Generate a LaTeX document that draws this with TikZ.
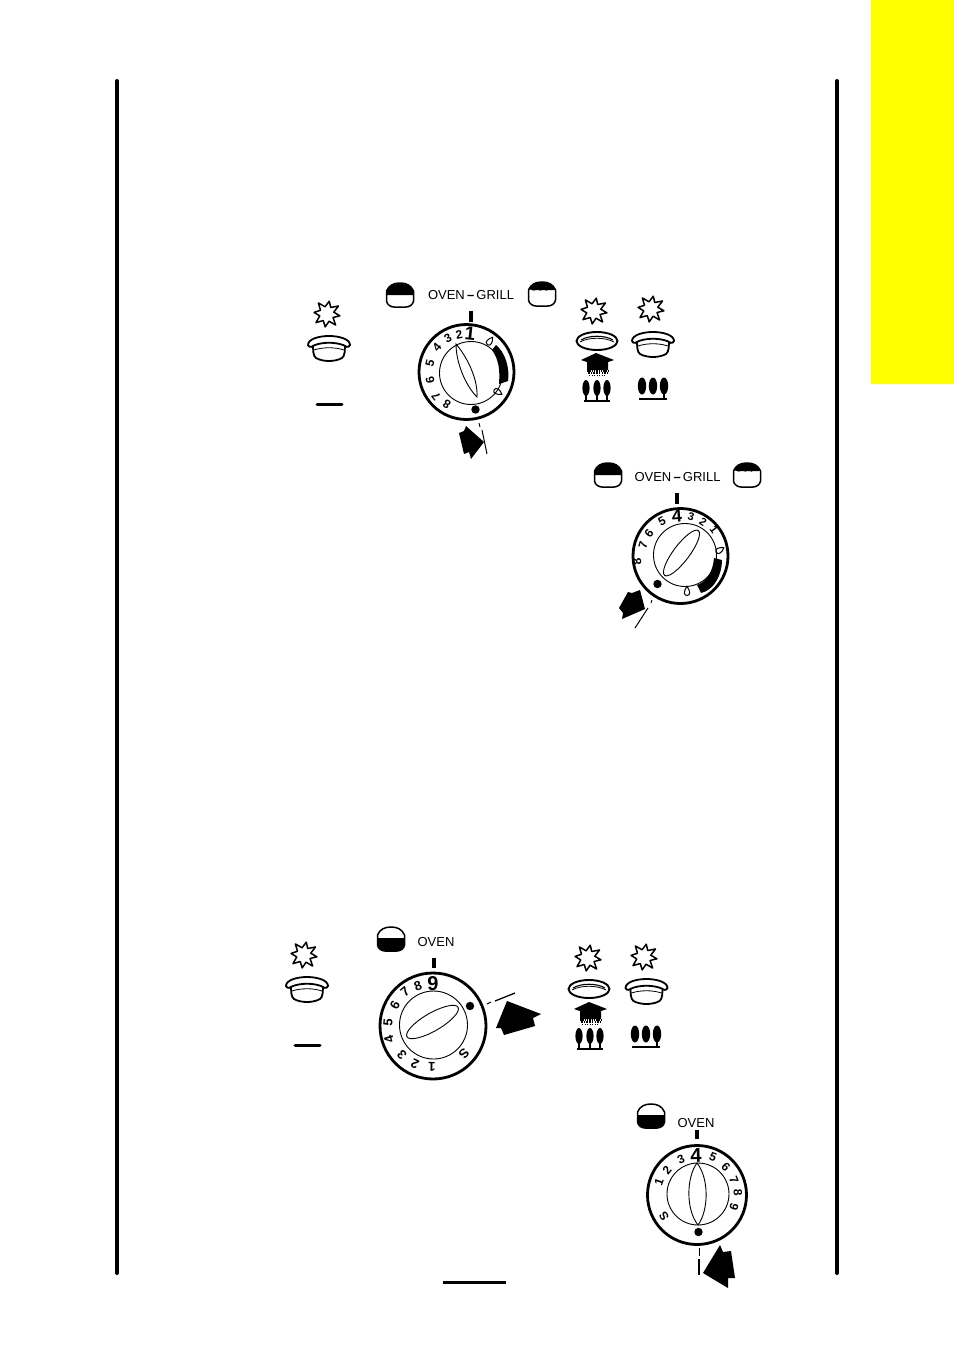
\documentclass[tikz,border=0pt]{standalone}
\usepackage{fontspec}
\setmainfont{Liberation Sans}
\definecolor{refyellow}{rgb}{1,1,0}
\newcounter{nmctr}
\tikzset{
 x=1pt,y=-1pt,
 ink/.style={line width=1.5pt,line join=round},
 thin ink/.style={line width=0.8pt},
 rail/.style={line width=4pt,line cap=round},
 bar/.style={line width=3pt,line cap=round},
 rim/.style={line width=2.8pt},
 lbl/.style={inner sep=0pt,font=\fontsize{13}{13}\selectfont},
}
\newcommand\dnum[6]{%
 \pgfmathsetmacro\rr{-atan2(#3-#1,#2-#4)}%
 \stepcounter{nmctr}%
 \node[inner sep=0pt,rotate=\rr] (num\arabic{nmctr}) at (#3,#4) {\fontsize{#5}{#5}\selectfont\bfseries #6};}
\newcommand\starmark[2]{%
 \draw[ink,shift={(#1,#2)}] (8:13)--(30:7)--(52:14)--(74:7.5)--(98:13)--(120:7.5)--(142:14)--(165:7.5)--(187:13)--(210:7.5)--(232:14)--(255:7.5)--(280:13)--(300:7.5)--(325:14)--(345:7)--cycle;}
\newcommand\closedburner[2]{% centre x, top y
 \begin{scope}[shift={(#1,#2)}]
 \draw[line width=1.8pt,fill=white] (-16,7) .. controls (-16,14) and (-16,20) .. (-13,22) .. controls (-6,26) and (6,26) .. (13,22) .. controls (16,20) and (16,14) .. (16,7);
 \draw[line width=1.8pt,fill=white] (-21,9) .. controls (-21,3) and (-10,0) .. (0,0) .. controls (10,0) and (21,3) .. (21,9) .. controls (20,12) and (16,11) .. (14,9) .. controls (6,6) and (-6,6) .. (-14,9) .. controls (-16,11) and (-20,12) .. (-21,9) -- cycle;
 \draw[thin ink] (-15,14) .. controls (-6,11) and (6,11) .. (15,14);
 \end{scope}}
\newcommand\dishburner[2]{%
 \begin{scope}[shift={(#1,#2)}]
 \draw[line width=1.9pt] (0,9) ellipse [x radius=20.5,y radius=9];
 \draw[line width=1.1pt] (-16,8) .. controls (-8,3) and (8,3) .. (16,8);
 \draw[thin ink] (-17,10) .. controls (-8,5) and (8,5) .. (17,10);
 \end{scope}}
\newcommand\housearrow[2]{%
 \begin{scope}[shift={(#1,#2)}]
 \fill (-16,7)--(-1,0)--(17,7)--(11,9)--(11,17)--(-10,17)--(-10,9)--cycle;
 \draw[line width=1.2pt,dash pattern=on 1.5pt off 0.8pt] (-10,18)--(11,18);
 \draw[line width=1.2pt,dash pattern=on 1.5pt off 1.2pt] (-9,20)--(10,20);
 \draw[line width=0.8pt,dash pattern=on 1pt off 1.5pt] (-8,22)--(9,22);
 \end{scope}}
\newcommand\flamesA[2]{%
 \begin{scope}[shift={(#1,#2)}]
 \foreach \dx in {-11,0,10} {
  \fill (\dx,8) ellipse [x radius=3.6,y radius=8];
  \draw[line width=2.4pt] (\dx,8)--(\dx,21);}
 \draw[line width=2.6pt] (-13,21)--(13,21);
 \end{scope}}
\newcommand\flamesB[2]{%
 \begin{scope}[shift={(#1,#2)}]
 \foreach \dx in {-11,0,11} {
  \fill (\dx,8) ellipse [x radius=4.2,y radius=8.5];}
 \draw[line width=1.4pt] (11,8)--(11,20);
 \draw[line width=2.4pt] (-14,21)--(14,21);
 \end{scope}}
% oven / grill icon: centre x, top y
\newcommand\iconshape{(-13.5,8) .. controls (-11,2) and (-6,0) .. (0,0) .. controls (6,0) and (11,2) .. (13.5,8) -- (13.5,18) .. controls (13,22) and (9,24) .. (6,24) -- (-6,24) .. controls (-9,24) and (-13,22) .. (-13.5,18) -- cycle}
\newcommand\ovenicontop[2]{%
 \begin{scope}[shift={(#1,#2)}]
 \fill (-13.5,12) -- (-13.5,8) .. controls (-11,2) and (-6,0) .. (0,0) .. controls (6,0) and (11,2) .. (13.5,8) -- (13.5,12) -- cycle;
 \draw[ink] \iconshape;
 \end{scope}}
\newcommand\ovenicondown[2]{%
 \begin{scope}[shift={(#1,#2)}]
 \fill (-13.5,11) -- (13.5,11) -- (13.5,18) .. controls (13,22) and (9,24) .. (6,24) -- (-6,24) .. controls (-9,24) and (-13,22) .. (-13.5,18) -- cycle;
 \draw[ink] \iconshape;
 \end{scope}}
\newcommand\grillicon[2]{%
 \begin{scope}[shift={(#1,#2)}]
 \fill (-13.5,7) .. controls (-11,2) and (-6,0) .. (0,0) .. controls (6,0) and (11,2) .. (13.5,7) .. controls (10,10) and (9,6.5) .. (6,8) .. controls (4,10) and (2,6.5) .. (0,8) .. controls (-2,10) and (-4,6.5) .. (-6,8) .. controls (-9,10) and (-11,6.5) .. (-13.5,7) -- cycle;
 \draw[ink] \iconshape;
 \end{scope}}
\newcommand\dropmark[3]{%
 \draw[line width=1pt,shift={(#1,#2)},rotate=#3] (0,-4.5) .. controls (3,-1) and (4,4.5) .. (0,4.5) .. controls (-4,4.5) and (-3,-1) .. (0,-4.5) -- cycle;}
\begin{document}
\begin{tikzpicture}
\useasboundingbox (0,0) rectangle (954,1352);
\fill[white] (0,0) rectangle (954,1352);
\fill[refyellow] (871,0) rectangle (954,384);
% side rails and foot rule
\draw[rail] (117,81)--(117,1273);
\draw[rail] (837,81)--(837,1273);
\draw[line width=3pt] (443,1282.5)--(505.5,1282.5);

% ---------- group 1
\starmark{327}{314}
\closedburner{329}{336}
\draw[bar] (317,404)--(342,404);
\ovenicontop{400}{283}
\grillicon{542}{282}
\node[lbl] (l1) at (471,295) {OVEN\,\textbf{–}\,GRILL};
\draw[line width=3.5pt] (471,311)--(471,322);
\draw[rim] (466.5,372) circle [radius=47.5];
\draw[line width=0.9pt] (471,373) circle [radius=31.5];
\draw[line width=0.9pt] (456,344) .. controls (468,358) and (478,380) .. (477,397) .. controls (465,385) and (456,362) .. (456,344) -- cycle;
\dnum{466}{372}{470}{334}{19}{1}
\dnum{466}{372}{459}{335}{12}{2}
\dnum{466}{372}{448}{338}{12}{3}
\dnum{466}{372}{437}{347}{12}{4}
\dnum{466}{372}{430}{363}{12}{5}
\dnum{466}{372}{430}{380}{12}{6}
\dnum{466}{372}{436}{396}{12}{7}
\dnum{466}{372}{447}{404}{12}{8}
\fill (475.5,409.5) circle [radius=4.2];
\fill (492,350)--(496,345) .. controls (505,352) and (510,368) .. (508,381) -- (499,384) .. controls (500,370) and (499,360) .. (492,350) -- cycle;
\dropmark{490}{341}{-35}
\dropmark{498}{392}{-120}
\fill (459,433)--(464,431)--(466,426)--(484,442)--(471,459)--(469,452)--(464,454)--cycle;
\draw[line width=0.9pt] (479,423)--(480,427);
\draw[line width=1pt] (482,430)--(487,454);

% burners group 1 right
\starmark{594}{311}
\dishburner{597}{332}
\housearrow{597}{353}
\flamesA{597}{380}
\starmark{651}{309}
\closedburner{653}{332}
\flamesB{653}{378}

% ---------- dial 2
\ovenicontop{608}{463}
\grillicon{747}{463}
\node[lbl] (l2) at (677.5,477.5) {OVEN\,\textbf{–}\,GRILL};
\draw[line width=3.5pt] (677,493)--(677,504);
\draw[rim] (680.5,556) circle [radius=47.5];
\draw[line width=0.9pt] (685,555) circle [radius=31.5];
\draw[line width=0.9pt,rotate around={53:(681.5,553)}] (681.5,553) ellipse [x radius=28,y radius=8];
\dnum{680}{556}{677}{516}{18}{4}
\dnum{680}{556}{662}{521}{12}{5}
\dnum{680}{556}{691}{517}{11}{3}
\dnum{680}{556}{703}{522}{11}{2}
\dnum{680}{556}{714}{530}{11}{1}
\dnum{680}{556}{649}{533}{12}{6}
\dnum{680}{556}{643}{545}{12}{7}
\dnum{680}{556}{637}{562}{12}{8}
\fill (657.5,584) circle [radius=4.2];
\fill (714,558)--(722,560) .. controls (722,575) and (714,590) .. (701,593) -- (697,585) .. controls (706,582) and (713,572) .. (714,558) -- cycle;
\dropmark{720}{550}{-60}
\dropmark{687}{591}{0}
\fill (619,608)--(628,592)--(632,593)--(640,590)--(645,609)--(622,619)--(623,613)--cycle;
\draw[line width=0.9pt] (652,600)--(651,603);
\draw[line width=1pt] (648,608)--(635,628);

% ---------- group 3
\starmark{304}{955}
\closedburner{307}{977}
\draw[bar] (295,1045)--(320,1045);
\ovenicondown{391}{927}
\node[lbl] (l3) at (436,942) {OVEN};
\draw[line width=3.5pt] (434,958)--(434,968);
\draw[rim] (433,1026) circle [radius=53];
\draw[line width=0.9pt] (433.5,1025) circle [radius=34];
\draw[line width=0.9pt,rotate around={30:(432.5,1022)}] (432.5,1022) ellipse [x radius=29.5,y radius=9];
\dnum{433}{1026}{433}{984}{20}{9}
\dnum{433}{1026}{418}{986}{13}{8}
\dnum{433}{1026}{405}{992}{13}{7}
\dnum{433}{1026}{395}{1005}{13}{6}
\dnum{433}{1026}{388}{1022}{13}{5}
\dnum{433}{1026}{389}{1039}{13}{4}
\dnum{433}{1026}{402}{1055}{13}{3}
\dnum{433}{1026}{415}{1064}{13}{2}
\dnum{433}{1026}{432}{1067}{13}{1}
\dnum{433}{1026}{464}{1054}{13}{S}
\fill (470,1006) circle [radius=4.2];
\fill (507,1001)--(541,1014)--(533,1018)--(535,1026)--(504,1035)--(501,1028)--(496,1028)--cycle;
\draw[line width=1pt] (487,1004)--(491,1002);
\draw[line width=1.3pt] (495,1001)--(515,993);

\starmark{588}{958}
\dishburner{589}{980}
\housearrow{590}{1002}
\flamesA{590}{1028}
\starmark{644}{957}
\closedburner{646.5}{979}
\flamesB{646}{1026}

% ---------- dial 4
\ovenicondown{651}{1104}
\node[lbl] (l4) at (696,1123) {OVEN};
\draw[line width=3.5pt] (697,1130)--(697,1139);
\draw[rim] (697,1195) circle [radius=49.5];
\draw[line width=0.9pt] (698,1194) circle [radius=31];
\draw[line width=0.9pt] (697,1163) .. controls (686,1178) and (686,1210) .. (698,1225) .. controls (709,1210) and (709,1178) .. (697,1163) -- cycle;
\dnum{697}{1195}{696}{1155}{20}{4}
\dnum{697}{1195}{681}{1159}{12}{3}
\dnum{697}{1195}{667}{1170}{12}{2}
\dnum{697}{1195}{659}{1182}{12}{1}
\dnum{697}{1195}{664}{1216}{12}{S}
\dnum{697}{1195}{713}{1157}{12}{5}
\dnum{697}{1195}{726}{1167}{12}{6}
\dnum{697}{1195}{734}{1180}{12}{7}
\dnum{697}{1195}{738}{1193}{12}{8}
\dnum{697}{1195}{734}{1207}{12}{9}
\fill (698.5,1232) circle [radius=4.2];
\fill (703,1273)--(720,1245)--(723,1252)--(731,1251)--(735,1278)--(728,1278)--(728,1288)--cycle;
\draw[line width=1pt] (699,1248)--(699,1256);
\draw[line width=1.3pt] (699,1259)--(699,1275);
\end{tikzpicture}
\end{document}
